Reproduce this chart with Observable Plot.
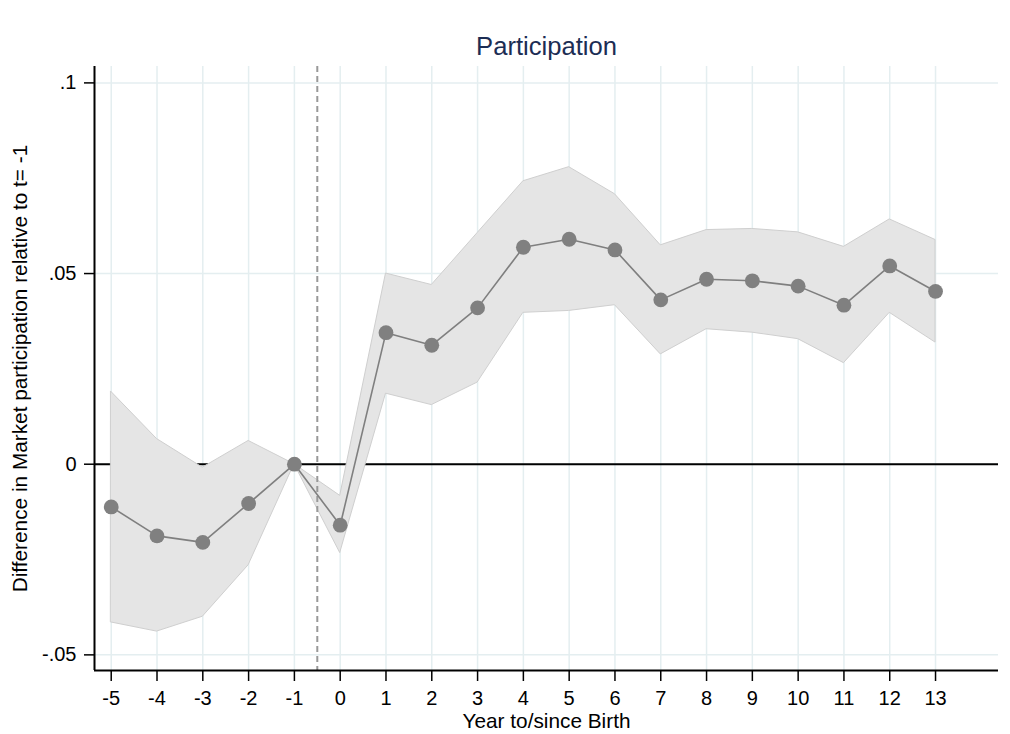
<!DOCTYPE html>
<html>
<head>
<meta charset="utf-8">
<script src="https://cdn.jsdelivr.net/npm/d3@7"></script>
<script src="https://cdn.jsdelivr.net/npm/@observablehq/plot@0.6"></script>
<style>
  html, body { margin: 0; padding: 0; background: #fff; }
  #chart svg { display: block; }
</style>
</head>
<body>
<div id="chart"></div>
<script>
// ---- data ----
const years = [-5, -4, -3, -2, -1, 0, 1, 2, 3, 4, 5, 6, 7, 8, 9, 10, 11, 12, 13];
const estimate = [-0.0112, -0.0188, -0.0205, -0.0103, 0, -0.016, 0.0345, 0.0312, 0.041, 0.0569, 0.059, 0.0562, 0.0431, 0.0485, 0.0481, 0.0467, 0.0417, 0.052, 0.0453];
const ciUpper = [0.019, 0.0066, -0.0009, 0.0061, 0, -0.0083, 0.05, 0.047, 0.0606, 0.0742, 0.0779, 0.0708, 0.0574, 0.0614, 0.0617, 0.0608, 0.057, 0.0642, 0.0588];
const ciLower = [-0.0415, -0.0439, -0.04, -0.0265, 0, -0.0233, 0.0185, 0.0155, 0.0214, 0.0397, 0.0402, 0.0417, 0.0288, 0.0354, 0.0345, 0.0328, 0.0265, 0.0397, 0.0319];
const yTickValues = [-0.05, 0, 0.05, 0.1];
const yTickLabels = ["-.05", "0", ".05", ".1"];
const xTickValues = years;
const eventLine = [-0.5];
const zeroLine = [0];
const xDomain = [-5.365, 14.375];
const yDomain = [-0.0541, 0.1043];
const titleText = "Participation";
const xLabel = "Year to/since Birth";
const yLabel = "Difference in Market participation relative to t= -1";

const data = years.map((t, i) => ({t, b: estimate[i], lo: ciLower[i], hi: ciUpper[i]}));
const yFmt = v => yTickLabels[yTickValues.findIndex(d => Math.abs(d - v) < 1e-9)];

const gridColor = "#e4eef0";
const font = "'Liberation Sans', Arial, sans-serif";

const chart = Plot.plot({
  width: 1010,
  height: 734,
  marginLeft: 94,
  marginRight: 12,
  marginTop: 66,
  marginBottom: 64,
  style: {fontFamily: font, fontSize: "20px", background: "#fff", color: "#000"},
  x: {domain: xDomain},
  y: {domain: yDomain},
  marks: [
    Plot.gridX(xTickValues, {stroke: gridColor, strokeOpacity: 1, strokeWidth: 1.5}),
    Plot.gridY(yTickValues, {stroke: gridColor, strokeOpacity: 1, strokeWidth: 1.5}),
    Plot.ruleY(zeroLine, {stroke: "#000", strokeWidth: 2}),
    Plot.areaY(data, {x: "t", y1: "lo", y2: "hi", fill: "#e5e5e5", stroke: "#cfcfcf", strokeWidth: 1}),
    Plot.ruleX(eventLine, {stroke: "#999", strokeWidth: 2, strokeDasharray: "6,4"}),
    Plot.line(data, {x: "t", y: "b", stroke: "#7f7f7f", strokeWidth: 1.6}),
    Plot.dot(data, {x: "t", y: "b", r: 7.4, fill: "#808080", stroke: "none"}),
    Plot.ruleX([xDomain[0]], {stroke: "#000", strokeWidth: 2}),
    Plot.ruleY([yDomain[0]], {stroke: "#000", strokeWidth: 2}),
    Plot.axisY(yTickValues, {tickSize: 10, tickPadding: 8, tickFormat: yFmt, fontSize: 20, label: null, stroke: "#000", strokeWidth: 1.5, fill: "#000"}),
    Plot.axisX(xTickValues, {tickSize: 11, tickPadding: 9, tickFormat: d => String(d), fontSize: 20, label: null, stroke: "#000", strokeWidth: 1.5, fill: "#000"}),
    Plot.text([titleText], {frameAnchor: "top", lineAnchor: "bottom", dy: -11.7, fontSize: 25.6, fill: "#1c2d54"}),
    Plot.text([xLabel], {frameAnchor: "bottom", lineAnchor: "bottom", dy: 57, fontSize: 20.8, fill: "#000"}),
    Plot.text([yLabel], {frameAnchor: "left", textAnchor: "middle", lineAnchor: "bottom", rotate: -90, dx: -68, fontSize: 20.8, fill: "#000"})
  ]
});
document.getElementById("chart").appendChild(chart);
</script>
</body>
</html>
